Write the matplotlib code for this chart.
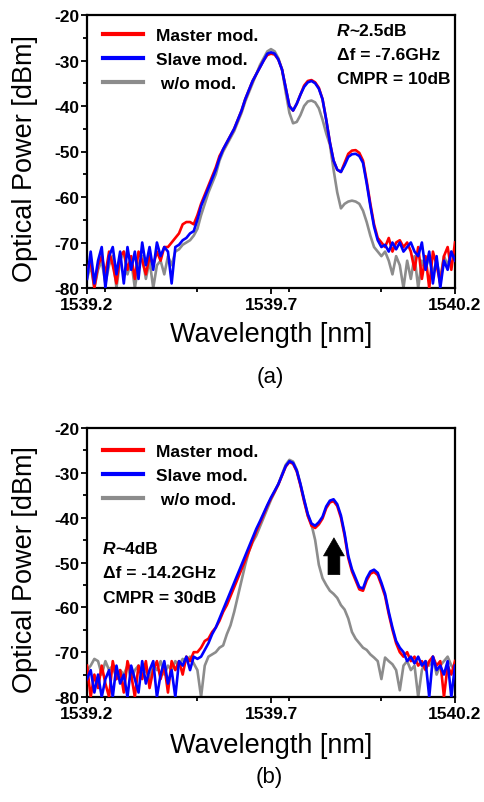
import numpy as np
import matplotlib
matplotlib.use('Agg')
import matplotlib.pyplot as plt
from matplotlib.ticker import MultipleLocator

plt.rcParams['font.family'] = ['Liberation Sans', 'DejaVu Sans']
plt.rcParams['axes.unicode_minus'] = False

# ---------------- data ----------------
wavelength = np.round(np.linspace(1539.20, 1540.20, 101), 2)

master_a = [-76, -74, -80, -75, -73, -77, -72, -75, -79, -73,
            -72, -76, -73, -78, -72, -74, -77, -73, -75, -72,
            -74, -71, -71, -70, -69, -68, -66, -65.5, -65.5, -66,
            -64, -61.5, -59.5, -57.5, -55.5, -53.5, -51, -49.5, -48, -46.5,
            -45, -43, -41, -38.5, -36.5, -34.5, -33, -31.5, -30, -28.8,
            -28.5, -28.7, -29.8, -32, -36, -40, -41, -39.5, -37.5, -35.5,
            -34.5, -34.3, -34.8, -36, -38.5, -43, -48, -52, -54, -54.5,
            -52.5, -50.5, -49.8, -49.7, -50.3, -52, -56.5, -61.5, -66, -69,
            -70, -71, -69, -72, -70, -69.5, -71, -70, -72, -76,
            -71, -78, -73, -80, -72, -75, -79, -73, -71, -76,
            -70]
slave_a = [-78, -72, -79, -74, -71, -80, -73, -71, -77, -72,
           -79, -71, -76, -72, -78, -70, -75, -71, -76, -70,
           -73, -71, -72, -79, -71, -70.5, -69.5, -69, -68, -67.5,
           -65, -62, -60, -58, -56, -54, -51.5, -49.5, -48, -46.5,
           -45, -43, -41, -38.5, -36.5, -34.5, -33, -31.5, -30, -28.5,
           -28.2, -28.5, -29.8, -32, -36, -40, -41, -39.5, -37.5, -35.8,
           -34.8, -34.5, -35, -36.2, -38.5, -43, -48, -52, -54, -54.5,
           -53, -51.2, -50.6, -50.5, -51, -52.5, -57, -62, -66.5, -69.5,
           -71, -70.5, -72, -70, -71.5, -70, -72, -71, -70, -72,
           -73, -70, -76, -72, -79, -73, -80, -74, -76, -72,
           -74]
wo_a = [-78, -75, -80, -76, -74, -79, -75, -73, -80, -74,
        -72, -77, -74, -80, -75, -73, -78, -74, -80, -75,
        -74, -77, -73, -75, -72, -71.5, -70.5, -70, -69.5, -68.5,
        -67, -64, -61.5, -59, -57, -55, -52, -50, -48.5, -47,
        -45.5, -43.5, -41.5, -39, -37, -35, -33, -31, -29.5, -28,
        -27.5, -28, -29.5, -32, -37, -41.5, -43.8, -43.5, -42, -40,
        -39, -38.8, -39.2, -40.5, -43, -46, -48.5, -54, -59, -62.5,
        -61.5, -61, -60.8, -61, -61.5, -63, -65.5, -68.5, -71, -72,
        -73, -72, -74, -77, -73, -75, -80, -74, -78, -73,
        -80, -74, -76, -73, -77, -74, -78, -73, -75, -72,
        -74]

master_b = [-73, -80, -75, -78, -73, -77, -80, -72, -76, -74,
            -79, -72, -75, -80, -73, -76, -72, -78, -74, -72,
            -76, -73, -79, -72, -74, -72, -75, -71, -72, -70,
            -70, -69, -67.5, -67, -65.5, -64.5, -63, -61, -59.5, -57.5,
            -55.5, -53.5, -51.5, -49.5, -47.5, -45.2, -43, -41.2, -39.3, -37.4,
            -35.7, -34.2, -32.6, -30.6, -28.6, -27.6, -28, -29.7, -32.8, -36.4,
            -39.6, -41.8, -42.3, -41.5, -40.2, -37.9, -36.6, -36.3, -37.4, -40,
            -44, -49, -52, -54, -56, -56.3, -54, -52.5, -52.1, -52.8,
            -55, -57.5, -61.5, -65, -68, -70, -71, -70, -72, -71,
            -73, -72, -74, -72, -71, -73, -72, -80, -73, -75,
            -72]
slave_b = [-76, -74, -79, -75, -80, -76, -74, -80, -73, -77,
           -75, -80, -73, -76, -79, -72, -77, -74, -72, -80,
           -75, -72, -77, -74, -80, -72, -73, -71, -74, -71,
           -71.5, -71, -69.5, -68, -66, -64.5, -62.5, -60.5, -58.5, -56.5,
           -54.5, -52.5, -50.5, -48.5, -46.5, -44.5, -42.5, -40.8, -39, -37.2,
           -35.5, -34, -32.5, -30.5, -28.5, -27.4, -27.8, -29.5, -32.5, -36,
           -39.2, -41.3, -41.8, -41, -39.8, -37.5, -36.2, -35.9, -37, -39.5,
           -43.5, -48.5, -51.5, -53.5, -55.5, -55.8, -53.5, -52, -51.6, -52.3,
           -54.5, -57, -61, -64.5, -67.5, -69, -70, -72, -71, -72.5,
           -71, -73, -72, -80, -71, -74, -73, -75, -72, -80,
           -73]
wo_b = [-74, -73, -71.5, -72, -75, -72, -74, -73, -76, -74,
        -75, -73, -76, -74, -73, -75, -74, -76, -73, -74,
        -72, -75, -73, -74, -72, -73, -71.5, -72, -71, -72.5,
        -74, -80, -73, -71, -70.5, -70, -69, -68.5, -66, -64,
        -61, -57.5, -54, -50.5, -47.5, -45.5, -44, -42, -40, -38,
        -36, -34.3, -32.5, -30.3, -28.2, -27.1, -27.5, -29.3, -32.5, -36,
        -39.5, -41.5, -45, -50.5, -53.5, -55, -56.3, -57, -57.9, -59.5,
        -60.5, -62.5, -65.5, -67, -68, -69, -69.5, -70.5, -71.2, -72,
        -76, -71.2, -72, -72.7, -74, -78.5, -73, -72, -74, -73,
        -80, -74, -72, -73, -71, -75, -73, -72, -71, -73,
        -74]

series_labels = ['Master mod.', 'Slave mod.', ' w/o mod.']
series_colors = ['#ff0000', '#0000ff', '#8c8c8c']
x_ticks = [1539.2, 1539.7, 1540.2]
x_tick_labels = ['1539.2', '1539.7', '1540.2']
y_ticks = [-80, -70, -60, -50, -40, -30, -20]
y_tick_labels = ['-80', '-70', '-60', '-50', '-40', '-30', '-20']
annot_a = ['~2.5dB', 'Δf = -7.6GHz', 'CMPR = 10dB']
annot_b = ['~4dB', 'Δf = -14.2GHz', 'CMPR = 30dB']
arrow_x = 1539.871
arrow_y = (-52.7, -44.5)

# ---------------- figure ----------------
W, H = 485, 803
fig = plt.figure(figsize=(W / 100, H / 100), dpi=100)


def px_rect(l, t, r, b):
    return [l / W, 1 - b / H, (r - l) / W, (b - t) / H]


def fx(x):
    return x / W


def fy(y):
    return 1 - y / H


def draw_panel(ax, master, slave, wo, leg_top):
    ax.plot(wavelength, wo, color=series_colors[2], lw=1.9, zorder=2, label=series_labels[2])
    ax.plot(wavelength, master, color=series_colors[0], lw=1.9, zorder=3, label=series_labels[0])
    ax.plot(wavelength, slave, color=series_colors[1], lw=1.9, zorder=4, label=series_labels[1])
    ax.set_xlim(1539.2, 1540.2)
    ax.set_ylim(-80, -20)
    ax.set_xticks(x_ticks)
    ax.set_xticklabels(x_tick_labels, fontsize=12.5, fontweight='bold')
    ax.set_yticks(y_ticks)
    ax.set_yticklabels(y_tick_labels, fontsize=12.5, fontweight='bold')
    ax.xaxis.set_minor_locator(MultipleLocator(0.25))
    ax.yaxis.set_minor_locator(MultipleLocator(5))
    ax.tick_params(which='major', direction='out', length=4.5, width=1.3)
    ax.tick_params(which='minor', direction='out', length=3, width=1.3)
    ax.tick_params(axis='y', which='major', pad=1.2)
    ax.tick_params(axis='x', which='major', pad=2.0)
    for s in ax.spines.values():
        s.set_linewidth(1.6)
    h, l = ax.get_legend_handles_labels()
    order = [1, 2, 0]
    leg = ax.legend([h[i] for i in order], [l[i] for i in order],
                    loc='upper left', bbox_to_anchor=(16 / 368, leg_top),
                    frameon=False, prop={'size': 12.5, 'weight': 'bold'},
                    handlelength=2.3, handletextpad=0.75, labelspacing=0.5,
                    borderpad=0, borderaxespad=0)
    for ln in leg.get_lines():
        ln.set_linewidth(3)
    return ax


ax_a = draw_panel(fig.add_axes(px_rect(87, 16, 455, 289)), master_a, slave_a, wo_a, 0.953)
ax_b = draw_panel(fig.add_axes(px_rect(87, 429, 455, 698)), master_b, slave_b, wo_b, 0.94)


def annotations(ax, x_px, ys_px, texts):
    t_r = fig.text(fx(x_px), fy(ys_px[0]), 'R', fontsize=12.5, fontweight='bold',
                   fontstyle='italic', ha='left', va='center')
    ax.annotate(texts[0], xy=(1, 0.5), xycoords=t_r, ha='left', va='center',
                fontsize=12.5, fontweight='bold')
    for y, t in zip(ys_px[1:], texts[1:]):
        fig.text(fx(x_px), fy(y), t, fontsize=12.5, fontweight='bold', ha='left', va='center')


annotations(ax_a, 337, [31, 55, 79], annot_a)
annotations(ax_b, 103, [550, 574, 599], annot_b)

ax_b.annotate('', xy=(arrow_x, arrow_y[1]), xytext=(arrow_x, arrow_y[0]),
              arrowprops=dict(arrowstyle='simple,head_length=1.3,head_width=1.5,tail_width=0.85',
                              mutation_scale=10, fc='black', ec='black', lw=0.5,
                              shrinkA=0, shrinkB=0), zorder=6)

# axis labels and panel captions
for yc in (159, 570):
    fig.text(fx(25.5), fy(yc), 'Optical Power [dBm]', rotation=90, fontsize=19.5,
             ha='center', va='center')
for yc in (335, 746):
    fig.text(fx(271), fy(yc), 'Wavelength [nm]', fontsize=19.5, ha='center', va='center')
fig.text(fx(270), fy(378), '(a)', fontsize=16, ha='center', va='center')
fig.text(fx(269), fy(778), '(b)', fontsize=16, ha='center', va='center')

fig.savefig('out.png', dpi=100)
